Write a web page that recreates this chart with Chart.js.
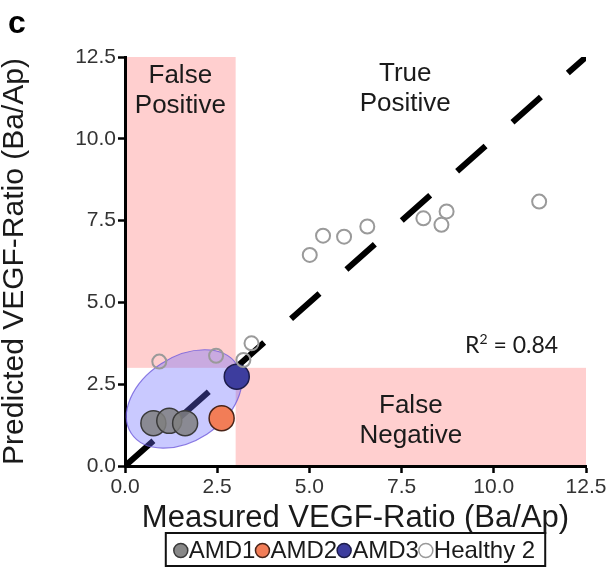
<!DOCTYPE html>
<html>
<head>
<meta charset="utf-8">
<script src="https://cdn.jsdelivr.net/npm/chart.js@4.4.1/dist/chart.umd.min.js"></script>
<style>
  html, body { margin: 0; padding: 0; background: #fff; }
  #wrap { width: 610px; height: 567px; position: relative; }
</style>
</head>
<body>
<div id="wrap"><canvas id="chart"></canvas></div>
<script>
// ── Data ────────────────────────────────────────────────────
const AXIS_TICKS = [0, 2.5, 5, 7.5, 10, 12.5];

const AMD1_X = [0.77, 1.20, 1.63];
const AMD1_Y = [1.31, 1.38, 1.31];
const AMD2_X = [2.62];
const AMD2_Y = [1.46];
const AMD3_X = [3.03];
const AMD3_Y = [2.73];
const HEALTHY_X = [0.93, 2.47, 3.21, 3.43, 5.01, 5.37, 5.94, 6.57, 8.09, 8.58, 8.72, 11.23];
const HEALTHY_Y = [3.19, 3.37, 3.24, 3.75, 6.45, 7.04, 7.01, 7.32, 7.57, 7.37, 7.78, 8.08];

const IDENTITY_X = [0, 12.5];
const IDENTITY_Y = [0, 12.5];

const R2 = 0.84;
const CUTOFF = 3;   // ratio threshold for the quadrants

// ── Annotation layout ───────────────────────────────────────
const FONT = "'Liberation Sans', Arial, Helvetica, sans-serif";
const PINK = '#ffcfcf';
const QUADRANTS = [
    { x0: 0, x1: CUTOFF, y0: CUTOFF, y1: 12.5 },   // false positive
    { x0: CUTOFF, x1: 12.5, y0: 0, y1: CUTOFF },   // false negative
];
const QUADRANT_LABELS = [
    { x: 1.5,  y: 11.93, lines: ['False', 'Positive'] },
    { x: 7.6,  y: 11.99, lines: ['True', 'Positive'] },
    { x: 7.75, y: 1.83,  lines: ['False', 'Negative'] },
];
const R2_POS = { x: 9.22, y: 3.46 };
// AMD cluster ellipse: centre in data units, radii in px
const CLUSTER = { x: 1.6, y: 2.05, rx: 63, ry: 42, angle: -33 };

function pts(xs, ys) {
    return xs.map((v, i) => ({ x: v, y: ys[i] }));
}

// ── Plugins ─────────────────────────────────────────────────
const quadrantPlugin = {
    id: 'quadrants',
    beforeDraw(chart) {
        const { ctx, scales: { x, y } } = chart;
        ctx.save();
        ctx.fillStyle = PINK;
        QUADRANTS.forEach(q => {
            const l = x.getPixelForValue(q.x0), r = x.getPixelForValue(q.x1);
            const t = y.getPixelForValue(q.y1), b = y.getPixelForValue(q.y0);
            ctx.fillRect(l, t, r - l, b - t);
        });
        ctx.restore();
    },
};

const clusterPlugin = {
    id: 'cluster',
    afterDatasetDraw(chart, args) {
        if (chart.data.datasets[args.index].id !== 'identity') return;
        const { ctx, scales: { x, y } } = chart;
        ctx.save();
        ctx.beginPath();
        ctx.ellipse(x.getPixelForValue(CLUSTER.x), y.getPixelForValue(CLUSTER.y),
            CLUSTER.rx, CLUSTER.ry, CLUSTER.angle * Math.PI / 180, 0, Math.PI * 2);
        ctx.fillStyle = 'rgba(105,105,255,0.36)';
        ctx.fill();
        ctx.lineWidth = 1.2;
        ctx.strokeStyle = 'rgba(110,90,220,0.8)';
        ctx.stroke();
        ctx.restore();
    },
};

const textPlugin = {
    id: 'panelText',
    afterDraw(chart) {
        const { ctx, chartArea, scales: { x, y } } = chart;
        ctx.save();

        // quadrant names
        ctx.fillStyle = '#1a1a1a';
        ctx.textAlign = 'center';
        ctx.textBaseline = 'middle';
        ctx.font = '26px ' + FONT;
        QUADRANT_LABELS.forEach(l => {
            const px = x.getPixelForValue(l.x), py = y.getPixelForValue(l.y);
            l.lines.forEach((t, i) => ctx.fillText(t, px, py + i * 30));
        });

        // R²
        ctx.textAlign = 'left';
        ctx.textBaseline = 'alphabetic';
        let px = x.getPixelForValue(R2_POS.x);
        const py = y.getPixelForValue(R2_POS.y);
        ctx.font = "23px Lato, 'Open Sans', sans-serif";
        ctx.fillText('R', px, py);
        px += ctx.measureText('R').width;
        ctx.font = "14px Lato, 'Open Sans', sans-serif";
        ctx.fillText('2', px, py - 9);
        px += ctx.measureText('2').width;
        ctx.font = "23px Lato, 'Open Sans', sans-serif";
        ctx.fillText(' = ' + R2.toFixed(2), px, py);

        // panel letter
        ctx.fillStyle = '#000';
        ctx.font = 'bold 32px ' + FONT;
        ctx.fillText('c', 8, 33);

        // boxed legend, markers packed against the text
        const items = chart.data.datasets.filter(d => d.label);
        ctx.font = '24px ' + FONT;
        const r = 7, padX = 8;
        const widths = items.map(d => 2 * r + 1 + ctx.measureText(d.label).width);
        const boxW = widths.reduce((a, b) => a + b, 0) + padX * 2 + 2;
        const boxH = 33;
        const left = (chartArea.left + chartArea.right) / 2 - boxW / 2;
        const top = x.bottom - 1;
        ctx.lineWidth = 2;
        ctx.strokeStyle = '#111';
        ctx.strokeRect(left, top, boxW, boxH);
        let cx = left + padX;
        const cy = top + boxH / 2 + 1;
        ctx.textBaseline = 'middle';
        items.forEach((d, i) => {
            ctx.beginPath();
            ctx.arc(cx + r, cy, r, 0, Math.PI * 2);
            ctx.fillStyle = d.legendFill || d.backgroundColor;
            ctx.fill();
            ctx.lineWidth = 1.5;
            ctx.strokeStyle = d.borderColor;
            ctx.stroke();
            ctx.fillStyle = '#1a1a1a';
            ctx.fillText(d.label, cx + 2 * r + 1, cy + 1);
            cx += widths[i];
        });

        ctx.restore();
    },
};

// ── Chart ───────────────────────────────────────────────────
function axis(title, titleSize) {
    return {
        type: 'linear',
        min: 0,
        max: 12.5,
        afterBuildTicks: s => { s.ticks = AXIS_TICKS.map(v => ({ value: v })); },
        grid: { drawOnChartArea: false, drawTicks: true, tickLength: 7, tickWidth: 2.5, tickColor: '#000' },
        border: { display: true, color: '#000', width: 3 },
        ticks: {
            color: '#333',
            padding: 2,
            font: { family: FONT, size: 21 },
            callback: v => Number(v).toFixed(1),
        },
        title: {
            display: true,
            text: title,
            color: '#1a1a1a',
            padding: 0,
            font: { family: FONT, size: titleSize, lineHeight: 1 },
        },
    };
}

const xAxis = axis('Measured VEGF-Ratio (Ba/Ap)', 31);
xAxis.afterFit = s => { s.height = 68; };
const yAxis = axis('Predicted VEGF-Ratio (Ba/Ap)', 30);
yAxis.afterFit = s => { s.width = 125; };

new Chart(document.getElementById('chart'), {
    type: 'scatter',
    data: {
        datasets: [
            {
                id: 'identity',
                type: 'line',
                data: pts(IDENTITY_X, IDENTITY_Y),
                borderColor: '#000',
                borderWidth: 6,
                borderDash: [38, 36],
                borderCapStyle: 'butt',
                pointRadius: 0,
                fill: false,
                order: 9,
            },
            {
                label: 'AMD1',
                data: pts(AMD1_X, AMD1_Y),
                backgroundColor: 'rgba(128,128,128,0.85)',
                legendFill: '#888',
                borderColor: '#3a3a3a',
                borderWidth: 1.5,
                pointRadius: 12.5,
                order: 4,
            },
            {
                label: 'AMD2',
                data: pts(AMD2_X, AMD2_Y),
                backgroundColor: '#f27d57',
                borderColor: '#4a2418',
                borderWidth: 1.5,
                pointRadius: 12.5,
                order: 3,
            },
            {
                label: 'AMD3',
                data: pts(AMD3_X, AMD3_Y),
                backgroundColor: '#3d3d9e',
                borderColor: '#1c1c4a',
                borderWidth: 1.5,
                pointRadius: 12.5,
                order: 2,
            },
            {
                label: 'Healthy 2',
                data: pts(HEALTHY_X, HEALTHY_Y),
                backgroundColor: 'rgba(255,255,255,0)',
                legendFill: '#fff',
                borderColor: '#9a9a9a',
                borderWidth: 2,
                pointRadius: 7,
                order: 1,
            },
        ],
    },
    options: {
        responsive: true,
        maintainAspectRatio: false,
        animation: false,
        layout: { padding: { top: 57, right: 24, bottom: 33, left: 0 } },
        plugins: {
            legend: { display: false },
            tooltip: { enabled: false },
        },
        scales: { x: xAxis, y: yAxis },
    },
    plugins: [quadrantPlugin, clusterPlugin, textPlugin],
});
</script>
</body>
</html>
